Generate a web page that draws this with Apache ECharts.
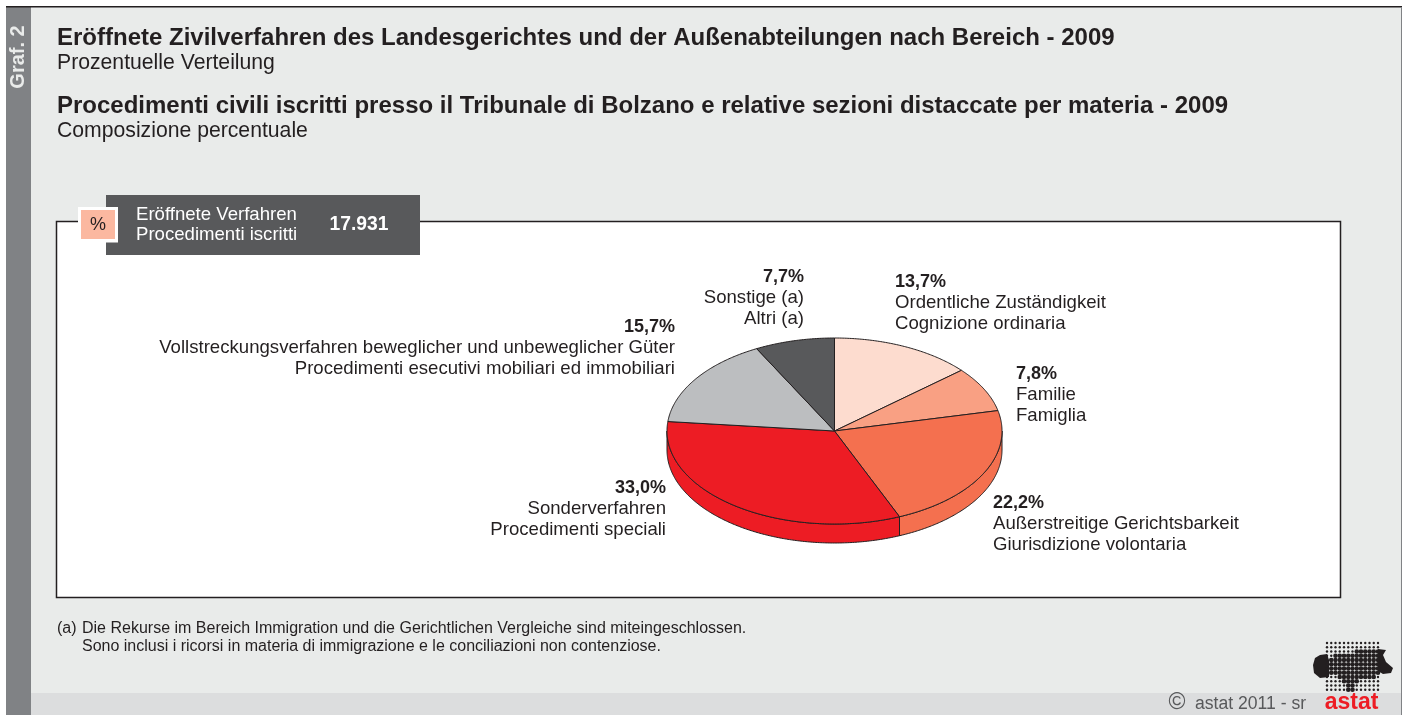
<!DOCTYPE html>
<html>
<head>
<meta charset="utf-8">
<title>Eröffnete Zivilverfahren 2009</title>
<script src="https://cdn.jsdelivr.net/npm/echarts@6/dist/echarts.min.js"></script>
<style>
html, body { margin: 0; padding: 0; background: #fff; }
#chart { width: 1402px; height: 715px; }
</style>
</head>
<body>
<div id="chart"></div>
<script>
// data
var sliceNames = ['Ordentliche Zuständigkeit', 'Familie', 'Außerstreitige Gerichtsbarkeit', 'Sonderverfahren', 'Vollstreckungsverfahren beweglicher und unbeweglicher Güter', 'Sonstige (a)'];
var sliceNamesIt = ['Cognizione ordinaria', 'Famiglia', 'Giurisdizione volontaria', 'Procedimenti speciali', 'Procedimenti esecutivi mobiliari ed immobiliari', 'Altri (a)'];
var sliceValues = [13.7, 7.8, 22.2, 33.0, 15.7, 7.7];
var sliceColors = ['#fddccf', '#f9a083', '#f4704f', '#ed1c24', '#bcbec0', '#58595b'];
var totalLabel = '17.931';

// layout
var pie = { cx: 834.5, cy: 431, rx: 167.5, ry: 93, depth: 19 };
var labelPos = [
	{ x: 895, y: 282, align: 'left' },
	{ x: 1016, y: 374, align: 'left' },
	{ x: 993, y: 503, align: 'left' },
	{ x: 666, y: 488, align: 'right' },
	{ x: 675, y: 327, align: 'right' },
	{ x: 804, y: 277, align: 'right' }
];
var ink = '#231f20';
var fontFamily = '"Liberation Sans", Arial, sans-serif';

// start/end angle of every slice, clockwise from 12 o'clock
var sliceTotal = sliceValues.reduce(function(a, b) { return a + b; }, 0);
var sliceAngles = [];
var running = 0;
sliceValues.forEach(function(v) {
	var start = running / sliceTotal * Math.PI * 2;
	running += v;
	sliceAngles.push([start, running / sliceTotal * Math.PI * 2]);
});

function ellipsePoint(t, dy) {
	return [pie.cx + pie.rx * Math.sin(t), pie.cy - pie.ry * Math.cos(t) + (dy || 0)];
}

function arcPoints(a, b, dy) {
	var pts = [];
	var steps = Math.max(2, Math.ceil(Math.abs(b - a) / 0.01));
	for (var i = 0; i <= steps; i++) {
		pts.push(ellipsePoint(a + (b - a) * i / steps, dy));
	}
	return pts;
}

// side wall, only the front half of the rim shows
function renderWall(params, api) {
	var angles = sliceAngles[params.dataIndex];
	var a = Math.max(angles[0], Math.PI / 2);
	var b = Math.min(angles[1], Math.PI * 1.5);
	if (a >= b) return null;
	var pts = arcPoints(a, b, 0).concat(arcPoints(b, a, pie.depth));
	return {
		type: 'polygon',
		shape: { points: pts },
		style: { fill: sliceColors[params.dataIndex], stroke: ink, lineWidth: 1 }
	};
}

// top face
function renderTop(params, api) {
	var angles = sliceAngles[params.dataIndex];
	var pts = [[pie.cx, pie.cy]].concat(arcPoints(angles[0], angles[1], 0));
	return {
		type: 'polygon',
		shape: { points: pts },
		style: { fill: sliceColors[params.dataIndex], stroke: ink, lineWidth: 1, lineJoin: 'round' }
	};
}

function text(x, y, str, font, fill, align, extra) {
	var el = {
		type: 'text',
		x: x,
		y: y,
		style: {
			text: str,
			font: font + ' ' + fontFamily,
			fill: fill || ink,
			align: align || 'left',
			verticalAlign: 'middle'
		}
	};
	for (var k in extra) el[k] = extra[k];
	return el;
}

function rect(x, y, w, h, fill, stroke) {
	return {
		type: 'rect',
		shape: { x: x, y: y, width: w, height: h },
		style: { fill: fill, stroke: stroke || null, lineWidth: stroke ? 1.5 : 0 }
	};
}

//////////// frame ////////////
var graphics = [
	rect(6, 6, 1396, 709, '#e9ebea'),
	rect(31, 693, 1370, 22, '#dcddde'),
	rect(6, 6, 25, 709, '#808285'),
	rect(6, 6, 1396, 1.5, ink),
	rect(1401, 7, 1, 708, '#808285'),
	rect(56.5, 221.5, 1284, 376, '#fff', ink),
	rect(106, 195, 314, 60, '#58595b'),
	rect(78, 207, 40, 35.5, '#fff'),
	rect(81, 210, 34, 29, '#fbb8a0'),

	text(57, 38, 'Eröffnete Zivilverfahren des Landesgerichtes und der Außenabteilungen nach Bereich - 2009', 'bold 24px'),
	text(57, 63, 'Prozentuelle Verteilung', '21.2px'),
	text(57, 106, 'Procedimenti civili iscritti presso il Tribunale di Bolzano e relative sezioni distaccate per materia - 2009', 'bold 24px'),
	text(57, 131, 'Composizione percentuale', '21.2px'),
	text(98, 225, '%', '18px', ink, 'center'),
	text(136, 215, 'Eröffnete Verfahren', '18.6px', '#fff'),
	text(136, 235, 'Procedimenti iscritti', '18.6px', '#fff'),
	text(359, 225, totalLabel, 'bold 19.3px', '#fff', 'center'),
	text(18, 57, 'Graf. 2', 'bold 20px', '#e9ebea', 'center', { rotation: Math.PI / 2 }),
	text(57, 629, '(a)', '16px'),
	text(82, 629, 'Die Rekurse im Bereich Immigration und die Gerichtlichen Vergleiche sind miteingeschlossen.', '16px'),
	text(82, 647, 'Sono inclusi i ricorsi in materia di immigrazione e le conciliazioni non contenziose.', '16px'),
	text(1195, 704, 'astat 2011 - sr', '17.6px', '#58595b'),
	text(1177, 703, '©', '23px', '#58595b', 'center'),
	text(1351.5, 703, 'astat', 'bold 23px', '#ed1c24', 'center')
];

// slice labels
sliceValues.forEach(function(v, i) {
	var p = labelPos[i];
	graphics.push(text(p.x, p.y, v.toFixed(1).replace('.', ',') + '%', 'bold 18px', ink, p.align));
	graphics.push(text(p.x, p.y + 21, sliceNames[i], '18.6px', ink, p.align));
	graphics.push(text(p.x, p.y + 42, sliceNamesIt[i], '18.6px', ink, p.align));
});

//////////// logo ////////////
var logoMiddle = [[1329, 659], [1340, 652], [1367, 651], [1382, 650], [1380, 671], [1377, 679], [1360, 679], [1353, 692], [1346, 691], [1343, 679], [1329, 675]];
var logoLeft = [[1313, 665], [1315, 658], [1320, 655], [1327, 654], [1329, 660], [1329, 677], [1320, 678], [1314, 673]];
var logoRight = [[1378, 649], [1386, 650], [1383, 655], [1386, 662], [1393, 668], [1391, 673], [1383, 674], [1378, 671]];

function insidePoly(x, y, poly) {
	var inside = false;
	for (var i = 0, j = poly.length - 1; i < poly.length; j = i++) {
		if ((poly[i][1] > y) !== (poly[j][1] > y) &&
			x < (poly[j][0] - poly[i][0]) * (y - poly[i][1]) / (poly[j][1] - poly[i][1]) + poly[i][0]) {
			inside = !inside;
		}
	}
	return inside;
}

graphics.push({ type: 'polygon', shape: { points: logoLeft }, style: { fill: ink } });
graphics.push({ type: 'polygon', shape: { points: logoRight }, style: { fill: ink } });
for (var gx = 1327; gx <= 1378; gx += 4.25) {
	for (var gy = 643; gy <= 691; gy += 4.25) {
		graphics.push({
			type: 'circle',
			shape: { cx: gx, cy: gy, r: insidePoly(gx, gy, logoMiddle) ? 2.3 : 1.2 },
			style: { fill: ink }
		});
	}
}

var chart = echarts.init(document.getElementById('chart'));
chart.setOption({
	animation: false,
	backgroundColor: '#fff',
	graphic: { elements: graphics.map(function(g) { g.z = 0; return g; }) },
	series: [
		{ type: 'custom', name: 'wall', coordinateSystem: 'none', renderItem: renderWall, data: sliceValues, z: 5, silent: true },
		{ type: 'custom', name: 'top', coordinateSystem: 'none', renderItem: renderTop, data: sliceValues, z: 6, silent: true }
	]
});
</script>
</body>
</html>
